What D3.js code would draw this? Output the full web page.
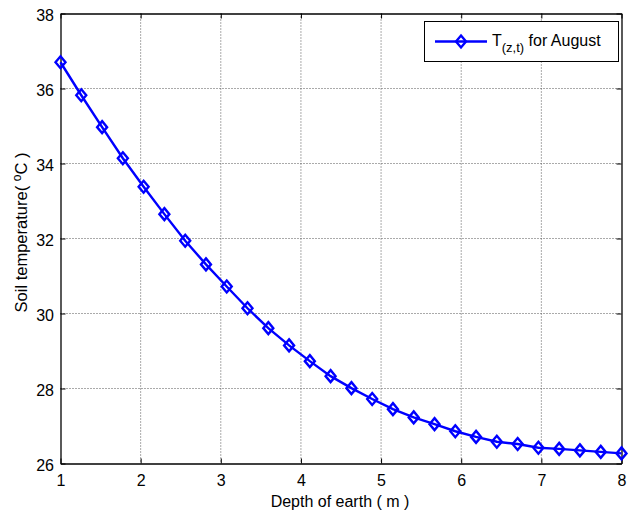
<!DOCTYPE html>
<html>
<head>
<meta charset="utf-8">
<script src="https://cdn.jsdelivr.net/npm/d3@7"></script>
<style>
  body { margin: 0; background: #fff; }
  text { font-family: Arial, "Liberation Sans", sans-serif; }
</style>
</head>
<body>
<div class="canvas"></div>
<script>
// depth values (m) - 28 points from 1 to 8
const depth = [1, 1.259, 1.519, 1.778, 2.037, 2.296, 2.556, 2.815, 3.074, 3.333,
  3.593, 3.852, 4.111, 4.370, 4.630, 4.889, 5.148, 5.407, 5.667, 5.926,
  6.185, 6.444, 6.704, 6.963, 7.222, 7.481, 7.741, 8];
// soil temperature for August
const temp = [36.70, 35.82, 34.97, 34.14, 33.38, 32.65, 31.94, 31.31, 30.72, 30.14,
  29.61, 29.15, 28.73, 28.33, 28.01, 27.72, 27.45, 27.23, 27.05, 26.86,
  26.71, 26.58, 26.52, 26.42, 26.39, 26.35, 26.31, 26.27];
const xTicks = [1, 2, 3, 4, 5, 6, 7, 8];
const yTicks = [26, 28, 30, 32, 34, 36, 38];

const W = 629, H = 514;
const plot = {left: 60.5, right: 621.5, top: 13.5, bottom: 463.5};
const fs = 16;

const svg = d3.select(".canvas").append("svg")
    .attr("width", W)
    .attr("height", H);

const x = d3.scaleLinear().domain([1, 8]).range([plot.left, plot.right]);
const y = d3.scaleLinear().domain([26, 38]).range([plot.bottom, plot.top]);

// grid (dotted)
const grid = svg.append("g");
grid.selectAll("line.gx")
    .data(xTicks.slice(1, -1))
    .enter().append("line")
    .attr("x1", d => x(d)).attr("x2", d => x(d))
    .attr("y1", plot.top).attr("y2", plot.bottom)
    .attr("stroke", "#555").attr("stroke-width", 1)
    .attr("stroke-dasharray", "1,2");
grid.selectAll("line.gy")
    .data(yTicks.slice(1, -1))
    .enter().append("line")
    .attr("y1", d => y(d)).attr("y2", d => y(d))
    .attr("x1", plot.left).attr("x2", plot.right)
    .attr("stroke", "#555").attr("stroke-width", 1)
    .attr("stroke-dasharray", "1,2");

// axes: ticks inward on all sides
const tickLen = 5;
const fmt = d3.format("d");
const bottomAxis = svg.append("g")
    .attr("transform", `translate(0,${plot.bottom})`)
    .call(d3.axisBottom(x).tickValues(xTicks).tickFormat(fmt).tickSizeInner(-tickLen).tickSizeOuter(0).tickPadding(11));
const topAxis = svg.append("g")
    .attr("transform", `translate(0,${plot.top})`)
    .call(d3.axisTop(x).tickValues(xTicks).tickSizeInner(-tickLen).tickSizeOuter(0).tickFormat(""));
const leftAxis = svg.append("g")
    .attr("transform", `translate(${plot.left},0)`)
    .call(d3.axisLeft(y).tickValues(yTicks).tickFormat(fmt).tickSizeInner(-tickLen).tickSizeOuter(0).tickPadding(6.5));
const rightAxis = svg.append("g")
    .attr("transform", `translate(${plot.right},0)`)
    .call(d3.axisRight(y).tickValues(yTicks).tickSizeInner(-tickLen).tickSizeOuter(0).tickFormat(""));

[bottomAxis, topAxis, leftAxis, rightAxis].forEach(a => {
    a.select(".domain").attr("stroke", "#000").attr("stroke-width", 1.3);
    a.selectAll(".tick line").attr("stroke", "#000");
    a.selectAll("text").attr("font-size", fs).attr("fill", "#000")
        .attr("font-family", "Arial, 'Liberation Sans', sans-serif");
});
leftAxis.selectAll("text").attr("dy", "0.45em");

// line + diamond markers
const pts = depth.map((d, i) => ({x: d, y: temp[i]}));
const line = d3.line().x(d => x(d.x)).y(d => y(d.y));

svg.append("path")
    .datum(pts)
    .attr("d", line)
    .attr("fill", "none")
    .attr("stroke", "#0000ff")
    .attr("stroke-width", 2.4);

const diamond = "M0,-6L5,0L0,6L-5,0Z";
svg.append("g").selectAll("path")
    .data(pts)
    .enter().append("path")
    .attr("d", diamond)
    .attr("transform", d => `translate(${x(d.x)},${y(d.y)})`)
    .attr("fill", "none")
    .attr("stroke", "#0000ff")
    .attr("stroke-width", 2.4);

// axis labels
svg.append("text")
    .attr("x", 340)
    .attr("y", 507)
    .attr("text-anchor", "middle")
    .attr("font-size", 16)
    .text("Depth of earth ( m )");

const yl = svg.append("text")
    .attr("transform", `translate(27,${(plot.top + plot.bottom) / 2 - 6}) rotate(-90)`)
    .attr("text-anchor", "middle")
    .attr("font-size", 16.5);
yl.append("tspan").text("Soil temperature( ");
yl.append("tspan").attr("dy", -6).attr("font-size", 12).text("o");
yl.append("tspan").attr("dy", 6).text("C )");

// legend
const lg = svg.append("g");
lg.append("rect")
    .attr("x", 424.5).attr("y", 21.5)
    .attr("width", 194).attr("height", 40)
    .attr("fill", "#fff").attr("stroke", "#000").attr("stroke-width", 1);
lg.append("line")
    .attr("x1", 435).attr("x2", 487)
    .attr("y1", 41.5).attr("y2", 41.5)
    .attr("stroke", "#0000ff").attr("stroke-width", 2.4);
lg.append("path")
    .attr("d", diamond)
    .attr("transform", "translate(461,41.5)")
    .attr("fill", "none").attr("stroke", "#0000ff").attr("stroke-width", 2.4);
const lt = lg.append("text")
    .attr("x", 492).attr("y", 46)
    .attr("font-size", 16);
lt.append("tspan").text("T");
lt.append("tspan").attr("dy", 6).attr("font-size", 13).text("(z,t)");
lt.append("tspan").attr("dy", -6).text(" for August");
</script>
</body>
</html>
